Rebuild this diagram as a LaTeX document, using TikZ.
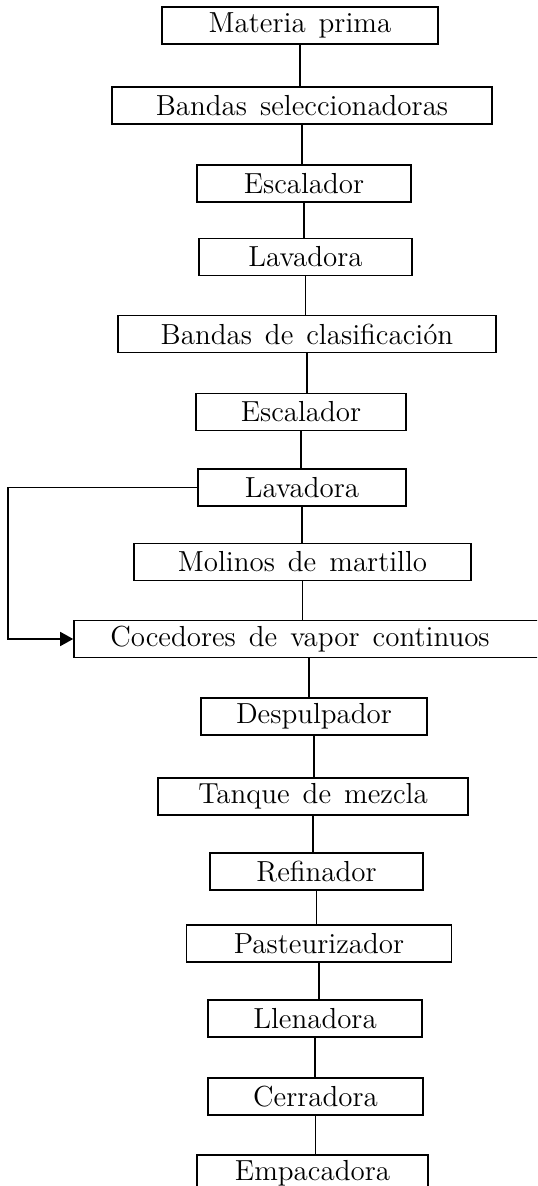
\documentclass[tikz,border=0pt]{standalone}
\usepackage{tikz}
\usetikzlibrary{arrows.meta}

\begin{document}
\begin{tikzpicture}[x=0.5pt, y=-0.5pt, line width=0.8pt,
        caja/.style={draw, minimum height=18.5pt, inner sep=0pt,
            font={\fontsize{14.5}{16}\selectfont\spaceskip=6.5pt plus 1pt}}]
        \clip (0, 0) rectangle (537, 1186);

        \node[caja, minimum width=138pt] (materia) at (300, 25.5) {Materia prima};
        \node[caja, minimum width=190pt] (bandassel) at (302, 105.5) {Bandas seleccionadoras};
        \node[caja, minimum width=107pt] (escalador1) at (304, 183.5) {Escalador};
        \node[caja, minimum width=106.5pt] (lavadora1) at (305.5, 257) {Lavadora};
        \node[caja, minimum width=189pt] (bandascla) at (307, 334) {Bandas de clasificación};
        \node[caja, minimum width=105pt] (escalador2) at (301, 412) {Escalador};
        \node[caja, minimum width=104pt] (lavadora2) at (302, 487.5) {Lavadora};
        \node[caja, minimum width=168.5pt] (molinos) at (302.5, 562) {Molinos de martillo};
        \node[caja, minimum width=235pt] (cocedores) at (309, 639) {\hspace*{-9pt}Cocedores de vapor continuos};
        \node[caja, minimum width=113pt] (despulpador) at (314, 716.5) {Despulpador};
        \node[caja, minimum width=155pt] (tanque) at (313, 796.5) {Tanque de mezcla};
        \node[caja, minimum width=106.5pt] (refinador) at (316.5, 871.5) {Refinador};
        \node[caja, minimum width=132.5pt] (pasteurizador) at (319, 943.5) {Pasteurizador};
        \node[caja, minimum width=107pt] (llenadora) at (315, 1018.5) {Llenadora};
        \node[caja, minimum width=107.5pt] (cerradora) at (315.5, 1096.5) {Cerradora};
        \node[caja, minimum width=115.5pt] (empacadora) at (312.5, 1173.5) {Empacadora};

        \draw (materia.south) -- (materia.south |- bandassel.north);
        \draw (bandassel.south) -- (bandassel.south |- escalador1.north);
        \draw (escalador1.south) -- (escalador1.south |- lavadora1.north);
        \draw (lavadora1.south) -- (lavadora1.south |- bandascla.north);
        \draw (bandascla.south) -- (bandascla.south |- escalador2.north);
        \draw (escalador2.south) -- (escalador2.south |- lavadora2.north);
        \draw (lavadora2.south) -- (lavadora2.south |- molinos.north);
        \draw (molinos.south) -- (molinos.south |- cocedores.north);
        \draw (cocedores.south) -- (cocedores.south |- despulpador.north);
        \draw (despulpador.south) -- (despulpador.south |- tanque.north);
        \draw (tanque.south) -- (tanque.south |- refinador.north);
        \draw (refinador.south) -- (refinador.south |- pasteurizador.north);
        \draw (pasteurizador.south) -- (pasteurizador.south |- llenadora.north);
        \draw (llenadora.south) -- (llenadora.south |- cerradora.north);
        \draw (cerradora.south) -- (cerradora.south |- empacadora.north);

        \coordinate (retorno) at (8, 489);
        \draw[-{Triangle[length=6.5pt, width=7pt]}] (lavadora2.west) -- (lavadora2.west -| retorno)
            -- (retorno |- cocedores.west) -- (cocedores.west);
\end{tikzpicture}
\end{document}
